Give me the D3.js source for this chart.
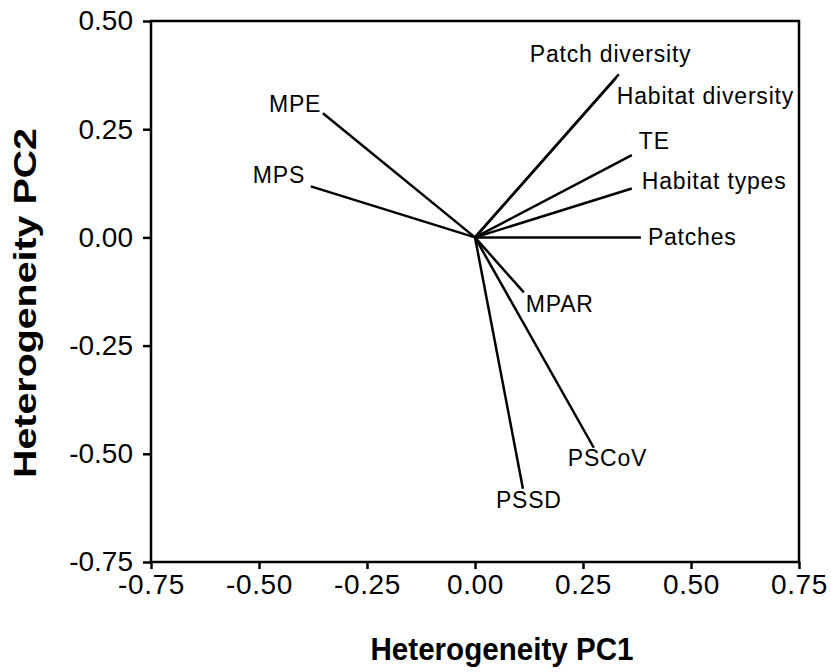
<!DOCTYPE html>
<html>
<head>
<meta charset="utf-8">
<script src="https://cdn.jsdelivr.net/npm/d3@7"></script>
<style>
  body { margin: 0; background: #fff; }
  svg { display: block; font-family: Arial, "Liberation Sans", sans-serif; }
</style>
</head>
<body>
<div id="chart"></div>
<script>
// PCA loadings (PC1, PC2)
const variables = ["Patch diversity", "Habitat diversity", "TE", "Habitat types", "Patches",
    "MPE", "MPS", "MPAR", "PSCoV", "PSSD"];
const pc1 = [0.333, 0.326, 0.363, 0.363, 0.384, -0.352, -0.380, 0.113, 0.275, 0.111];
const pc2 = [0.377, 0.368, 0.190, 0.113, 0.000, 0.287, 0.118, -0.127, -0.486, -0.581];
const ticks = [-0.75, -0.50, -0.25, 0.00, 0.25, 0.50, 0.75];
const yTicks = [-0.75, -0.50, -0.25, 0.00, 0.25, 0.50];

// label offsets from line end (px)
const labelOffsets = [[-89, -12], [1, 26], [7, -6], [10, 1], [7, 8],
    [-54, -1], [-58, -3], [2, 20], [-26, 18], [-27, 19]];

const width = 831, height = 672;
const margin = { top: 21, right: 32, bottom: 110, left: 151 };

const svg = d3.select("#chart")
    .append("svg")
    .attr("width", width)
    .attr("height", height);

const x = d3.scaleLinear()
    .domain([-0.75, 0.75])
    .range([margin.left, width - margin.right]);

const y = d3.scaleLinear()
    .domain([-0.75, 0.50])
    .range([height - margin.bottom, margin.top]);

// frame
svg.append("rect")
    .attr("x", x(-0.75))
    .attr("y", y(0.50))
    .attr("width", x(0.75) - x(-0.75))
    .attr("height", y(-0.75) - y(0.50))
    .attr("fill", "none")
    .attr("stroke", "black")
    .attr("stroke-width", 2.5)

const fmt = d => d.toFixed(2);

// x axis
const xAxis = svg.append("g")
    .attr("transform", `translate(0,${y(-0.75)})`)
    .call(d3.axisBottom(x).tickValues(ticks).tickFormat(fmt).tickSize(7).tickPadding(5))
xAxis.select(".domain").remove()
xAxis.selectAll("line").attr("stroke-width", 2.5)
xAxis.selectAll("text")
    .style("font-size", "28px")
    .style("font-family", "Arial, 'Liberation Sans', sans-serif")
    .style("letter-spacing", "0.6px")
    .attr("fill", "black")

// y axis
const yAxis = svg.append("g")
    .attr("transform", `translate(${x(-0.75)},0)`)
    .call(d3.axisLeft(y).tickValues(yTicks).tickFormat(fmt).tickSize(8).tickPadding(10))
yAxis.select(".domain").remove()
yAxis.selectAll("line").attr("stroke-width", 2.5)
yAxis.selectAll("text")
    .style("font-size", "28px")
    .style("font-family", "Arial, 'Liberation Sans', sans-serif")
    .attr("fill", "black")

// vectors
svg.append("g")
    .selectAll("line")
    .data(variables)
    .join("line")
    .attr("x1", x(0))
    .attr("y1", y(0))
    .attr("x2", (d, i) => x(pc1[i]))
    .attr("y2", (d, i) => y(pc2[i]))
    .attr("stroke", "black")
    .attr("stroke-width", 2.5)

// vector labels
svg.append("g")
    .selectAll("text")
    .data(variables)
    .join("text")
    .attr("x", (d, i) => x(pc1[i]) + labelOffsets[i][0])
    .attr("y", (d, i) => y(pc2[i]) + labelOffsets[i][1])
    .text(d => d)
    .style("font-size", "23px")
    .style("letter-spacing", "0.8px")

// axis titles
svg.append("text")
    .attr("x", 502)
    .attr("y", 660)
    .attr("text-anchor", "middle")
    .attr("textLength", 263)
    .attr("lengthAdjust", "spacingAndGlyphs")
    .style("font-size", "31px")
    .style("font-weight", "bold")
    .text("Heterogeneity PC1")

svg.append("text")
    .attr("transform", "translate(36,303) rotate(-90)")
    .attr("text-anchor", "middle")
    .attr("textLength", 350)
    .attr("lengthAdjust", "spacingAndGlyphs")
    .style("font-size", "31px")
    .style("font-weight", "bold")
    .text("Heterogeneity PC2")
</script>
</body>
</html>
